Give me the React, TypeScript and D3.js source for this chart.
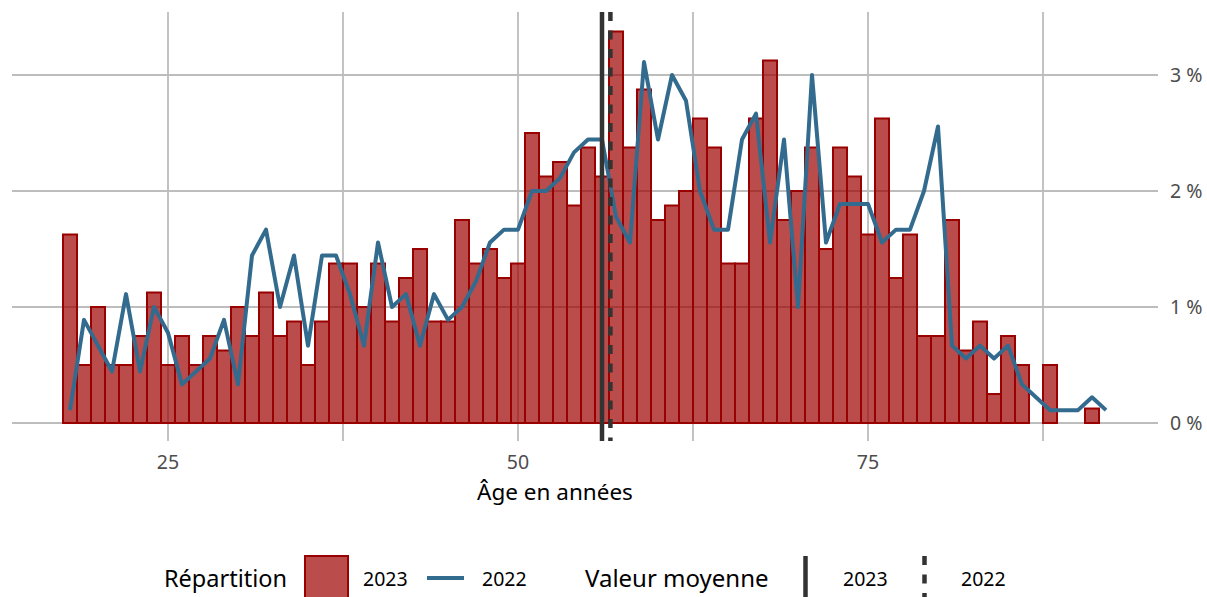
import * as d3 from "d3";

// Age (years) of each bar / point
const ages2023 = d3.range(18, 92);
const share2023 = [
  1.625, 0.5, 1.0, 0.5, 0.5, 0.75, 1.125, 0.5, 0.75, 0.5, // 18-27
  0.75, 0.625, 1.0, 0.75, 1.125, 0.75, 0.875, 0.5, 0.875, 1.375, // 28-37
  1.375, 1.0, 1.375, 0.875, 1.25, 1.5, 0.875, 0.875, 1.75, 1.375, // 38-47
  1.5, 1.25, 1.375, 2.5, 2.125, 2.25, 1.875, 2.375, 2.125, 3.375, // 48-57
  2.375, 2.875, 1.75, 1.875, 2.0, 2.625, 2.375, 1.375, 1.375, 2.625, // 58-67
  3.125, 1.75, 2.0, 2.375, 1.5, 2.375, 2.125, 1.625, 2.625, 1.25, // 68-77
  1.625, 0.75, 0.75, 1.75, 0.625, 0.875, 0.25, 0.75, 0.5, 0, // 78-87
  0.5, 0, 0, 0.125, // 88-91
];

const ages2022 = d3.range(18, 93);
const share2022 = [
  0.111, 0.889, 0.667, 0.444, 1.111, 0.444, 1.0, 0.778, 0.333, 0.444, // 18-27
  0.556, 0.889, 0.333, 1.444, 1.667, 1.0, 1.444, 0.667, 1.444, 1.444, // 28-37
  1.111, 0.667, 1.556, 1.0, 1.111, 0.667, 1.111, 0.889, 1.0, 1.222, // 38-47
  1.556, 1.667, 1.667, 2.0, 2.0, 2.111, 2.333, 2.444, 2.444, 1.778, // 48-57
  1.556, 3.111, 2.444, 3.0, 2.778, 2.0, 1.667, 1.667, 2.444, 2.667, // 58-67
  1.556, 2.444, 1.0, 3.0, 1.556, 1.889, 1.889, 1.889, 1.556, 1.667, // 68-77
  1.667, 2.0, 2.556, 0.667, 0.556, 0.667, 0.556, 0.667, 0.333, 0.222, // 78-87
  0.111, 0.111, 0.111, 0.222, 0.111, // 88-92
];

const meanAge2023 = 56.0;
const meanAge2022 = 56.6;

const xTicks = [25, 50, 75];
const xMinorGrid = [37.5, 62.5, 87.5];
const yTicks = [0, 1, 2, 3];

const barFill = "#9e0000";
const barStroke = "#990000";
const lineColor = "#336b8f";
const meanColor = "#333333";
const gridColor = "#bdbdbd";
const font = "'Noto Sans', 'Open Sans', sans-serif";

const App = () => {
  const width = 1207;
  const height = 597;
  const panel = { left: 12, right: 1158, top: 12, bottom: 441 };

  const x = d3.scaleLinear().domain([13.857, 95.714]).range([panel.left, panel.right]);
  const y = d3.scaleLinear().domain([-0.155, 3.543]).range([panel.bottom, panel.top]);

  const line = d3
    .line<number>()
    .x((_, i) => x(ages2022[i]))
    .y((d) => y(d));

  return (
    <svg
      width={width}
      height={height}
      style={{ position: "absolute", left: 0, top: 0, fontFamily: font }}
    >
      <rect width={width} height={height} fill="#fff" />

      {/* grid */}
      {[...xTicks, ...xMinorGrid].map((t) => (
        <line
          key={"gx" + t}
          x1={x(t)}
          x2={x(t)}
          y1={panel.top}
          y2={panel.bottom}
          stroke={gridColor}
          strokeWidth={1.8}
        />
      ))}
      {yTicks.map((t) => (
        <line
          key={"gy" + t}
          x1={panel.left}
          x2={panel.right}
          y1={y(t)}
          y2={y(t)}
          stroke={gridColor}
          strokeWidth={1.8}
        />
      ))}

      {/* bars 2023 */}
      {share2023.map((v, i) =>
        v > 0 ? (
          <rect
            key={"b" + i}
            x={x(ages2023[i] - 0.5)}
            y={y(v)}
            width={x(ages2023[i] + 0.5) - x(ages2023[i] - 0.5)}
            height={y(0) - y(v)}
            fill={barFill}
            fillOpacity={0.7}
            stroke={barStroke}
            strokeWidth={2}
          />
        ) : null
      )}

      {/* line 2022 */}
      <path
        d={line(share2022) || ""}
        fill="none"
        stroke={lineColor}
        strokeWidth={4}
        strokeLinejoin="round"
      />

      {/* mean lines */}
      <line
        x1={x(meanAge2023)}
        x2={x(meanAge2023)}
        y1={panel.top}
        y2={panel.bottom}
        stroke={meanColor}
        strokeWidth={4.5}
      />
      <line
        x1={x(meanAge2022)}
        x2={x(meanAge2022)}
        y1={panel.top}
        y2={panel.bottom}
        stroke={meanColor}
        strokeWidth={4.5}
        strokeDasharray="9 9.5"
      />

      {/* x axis labels */}
      {xTicks.map((t) => (
        <text
          key={"xt" + t}
          x={x(t)}
          y={469}
          textAnchor="middle"
          fontSize={19.5}
          fill="#4d4d4d"
        >
          {t}
        </text>
      ))}
      <text x={555} y={500} textAnchor="middle" fontSize={22.5} fill="#000">
        Âge en années
      </text>

      {/* y axis labels (right) */}
      {yTicks.map((t) => (
        <text
          key={"yt" + t}
          x={1170}
          y={y(t)}
          dy="0.35em"
          fontSize={19.5}
          fill="#4d4d4d"
        >
          {t} %
        </text>
      ))}

      {/* legend */}
      <g>
        <text x={164} y={587} fontSize={23.5} fill="#000">
          Répartition
        </text>
        <rect
          x={305}
          y={556}
          width={43}
          height={45}
          fill={barFill}
          fillOpacity={0.7}
          stroke={barStroke}
          strokeWidth={2}
        />
        <text x={363} y={586} fontSize={19.5} fill="#000">
          2023
        </text>
        <line x1={427} x2={464} y1={578} y2={578} stroke={lineColor} strokeWidth={4} />
        <text x={482} y={586} fontSize={19.5} fill="#000">
          2022
        </text>

        <text x={585} y={587} fontSize={24} fill="#000">
          Valeur moyenne
        </text>
        <line x1={805.5} x2={805.5} y1={556} y2={601} stroke={meanColor} strokeWidth={4.5} />
        <text x={843} y={586} fontSize={19.5} fill="#000">
          2023
        </text>
        <line
          x1={924.5}
          x2={924.5}
          y1={556}
          y2={601}
          stroke={meanColor}
          strokeWidth={4.5}
          strokeDasharray="9 9.5"
        />
        <text x={961} y={586} fontSize={19.5} fill="#000">
          2022
        </text>
      </g>
    </svg>
  );
};

export default App;
